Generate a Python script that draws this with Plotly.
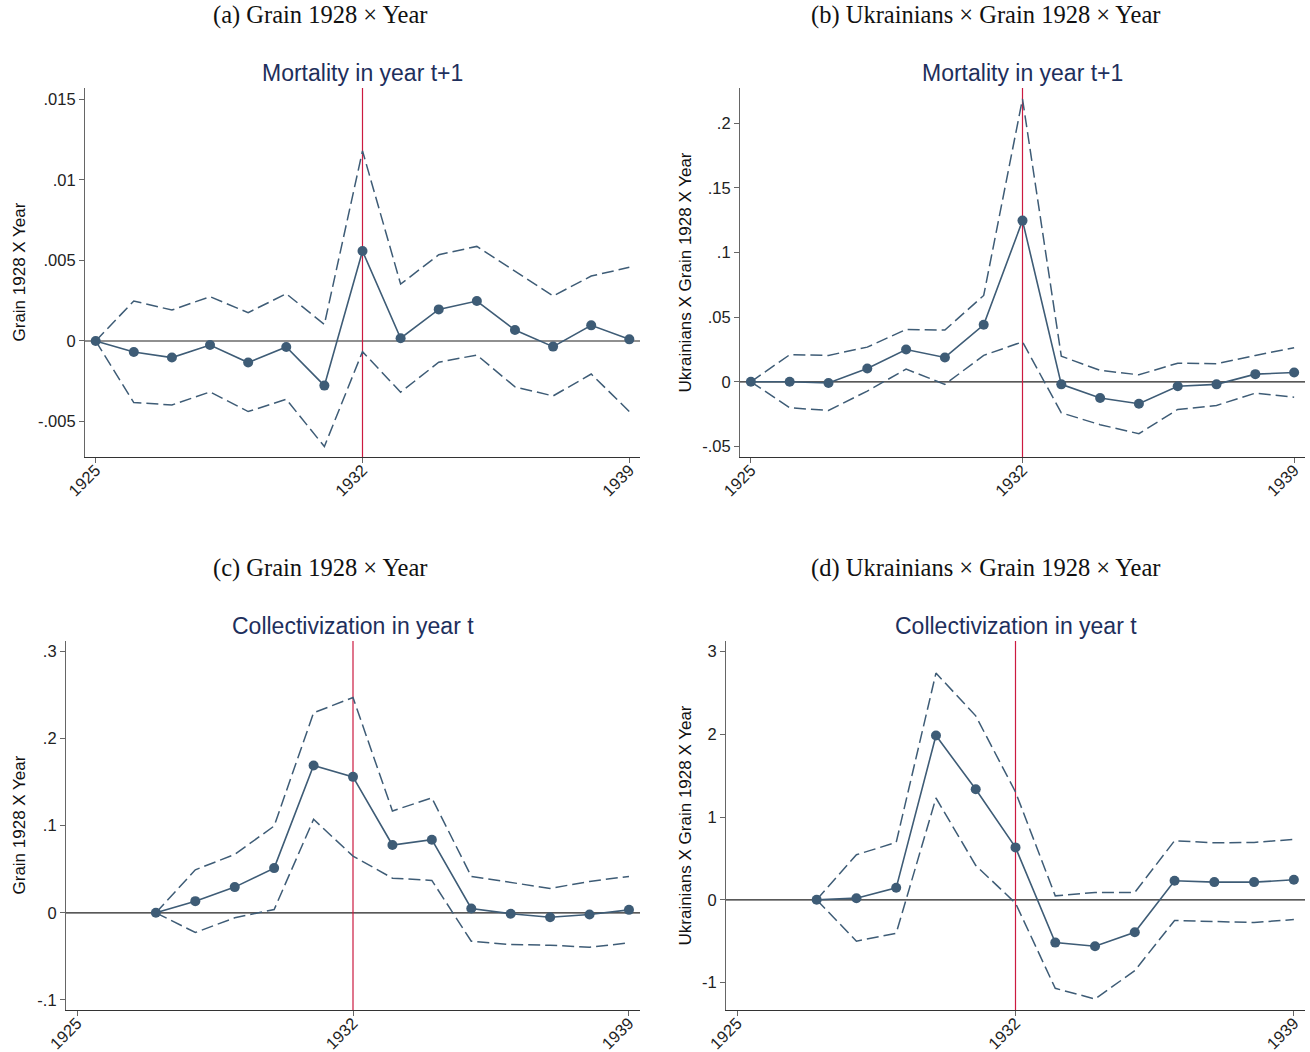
import plotly.graph_objects as go

# ---------------------------------------------------------------- data
years_full = list(range(1925, 1940))
years_coll = list(range(1927, 1940))
year_ticks = [1925, 1932, 1939]
event_year = 1932

# (a) Grain 1928 x Year -> mortality in year t+1
mort_grain_coef = [0, -0.00068, -0.00103, -0.00025, -0.00134, -0.00037, -0.00277, 0.00558,
                   0.00017, 0.00196, 0.00248, 0.00068, -0.00035, 0.00097, 0.0001]
mort_grain_hi = [0, 0.00248, 0.00192, 0.00275, 0.00176, 0.00293, 0.00103, 0.0118,
                 0.00353, 0.00535, 0.00587, 0.00434, 0.00279, 0.00403, 0.00457]
mort_grain_lo = [0, -0.00382, -0.00397, -0.00316, -0.00438, -0.00362, -0.00655, -0.00066,
                 -0.00318, -0.00132, -0.00087, -0.00285, -0.00341, -0.00205, -0.00438]

# (b) Ukrainians x Grain 1928 x Year -> mortality in year t+1
mort_ukr_coef = [0, 0.0, -0.001, 0.0103, 0.025, 0.0188, 0.0441, 0.1247,
                 -0.002, -0.0126, -0.017, -0.0034, -0.002, 0.0059, 0.0072]
mort_ukr_hi = [0, 0.0209, 0.0204, 0.0268, 0.0405, 0.040, 0.0668, 0.2188,
               0.0198, 0.0088, 0.0054, 0.0144, 0.0139, 0.0204, 0.0263]
mort_ukr_lo = [0, -0.0201, -0.0222, -0.0072, 0.0098, -0.002, 0.0204, 0.0309,
               -0.024, -0.0332, -0.0402, -0.0214, -0.0183, -0.0088, -0.0119]

# (c) Grain 1928 x Year -> collectivization in year t
coll_grain_coef = [0, 0.0134, 0.0295, 0.0513, 0.169, 0.156, 0.0778, 0.0839,
                   0.005, -0.001, -0.005, -0.002, 0.0034]
coll_grain_hi = [0, 0.0494, 0.067, 0.0996, 0.2295, 0.247, 0.1169, 0.1318,
                 0.0418, 0.0345, 0.028, 0.036, 0.0418]
coll_grain_lo = [0, -0.0226, -0.0057, 0.0038, 0.1073, 0.0651, 0.0398, 0.0372,
                 -0.0326, -0.0364, -0.0372, -0.0395, -0.0345]

# (d) Ukrainians x Grain 1928 x Year -> collectivization in year t
coll_ukr_coef = [0, 0.02, 0.145, 1.986, 1.336, 0.634, -0.517, -0.561,
                 -0.392, 0.23, 0.214, 0.214, 0.242]
coll_ukr_hi = [0, 0.545, 0.694, 2.741, 2.224, 1.304, 0.048, 0.089,
               0.089, 0.715, 0.69, 0.694, 0.73]
coll_ukr_lo = [0, -0.5, -0.404, 1.231, 0.416, -0.04, -1.07, -1.199,
               -0.856, -0.25, -0.262, -0.275, -0.238]

ytick_a = [-0.005, 0, 0.005, 0.01, 0.015]
ytext_a = ["-.005", "0", ".005", ".01", ".015"]
ytick_b = [-0.05, 0, 0.05, 0.1, 0.15, 0.2]
ytext_b = ["-.05", "0", ".05", ".1", ".15", ".2"]
ytick_c = [-0.1, 0, 0.1, 0.2, 0.3]
ytext_c = ["-.1", "0", ".1", ".2", ".3"]
ytick_d = [-1, 0, 1, 2, 3]
ytext_d = ["-1", "0", "1", "2", "3"]

panel_titles = ["(a) Grain 1928 \u00d7 Year", "(b) Ukrainians \u00d7 Grain 1928 \u00d7 Year",
                "(c) Grain 1928 \u00d7 Year", "(d) Ukrainians \u00d7 Grain 1928 \u00d7 Year"]
outcome_titles = ["Mortality in year t+1", "Mortality in year t+1",
                  "Collectivization in year t", "Collectivization in year t"]
ylabels = ["Grain 1928 X Year", "Ukrainians X Grain 1928 X Year",
           "Grain 1928 X Year", "Ukrainians X Grain 1928 X Year"]

# ---------------------------------------------------------------- layout helpers
W, H = 1310, 1052
def px_x(v):
    return v / W
def px_y(v):
    return 1 - v / H

SERIES = "#3e5c76"
EVENT = "#cc1a40"
TITLE_NAVY = "#1e2f5c"
SANS = "Liberation Sans, Arial, sans-serif"
SERIF = "Liberation Serif, Times New Roman, serif"

panels = [
    dict(x=years_full, coef=mort_grain_coef, hi=mort_grain_hi, lo=mort_grain_lo,
         yt=ytick_a, ytx=ytext_a, yr=[-0.0072, 0.0157],
         box=(85, 640, 88, 457), title_x=320, title_y=15, sub_y=73, ylab_x=19),
    dict(x=years_full, coef=mort_ukr_coef, hi=mort_ukr_hi, lo=mort_ukr_lo,
         yt=ytick_b, ytx=ytext_b, yr=[-0.0582, 0.2273],
         box=(740, 1305, 88, 457), title_x=985, title_y=15, sub_y=73, ylab_x=685),
    dict(x=years_coll, coef=coll_grain_coef, hi=coll_grain_hi, lo=coll_grain_lo,
         yt=ytick_c, ytx=ytext_c, yr=[-0.1115, 0.3119],
         box=(66, 640, 641, 1010), title_x=320, title_y=568, sub_y=626, ylab_x=19),
    dict(x=years_coll, coef=coll_ukr_coef, hi=coll_ukr_hi, lo=coll_ukr_lo,
         yt=ytick_d, ytx=ytext_d, yr=[-1.332, 3.129],
         box=(726, 1305, 641, 1010), title_x=985, title_y=568, sub_y=626, ylab_x=685),
]

fig = go.Figure()
layout_axes = {}
shapes = []
annotations = []

for i, p in enumerate(panels, start=1):
    xa = "x" if i == 1 else f"x{i}"
    ya = "y" if i == 1 else f"y{i}"
    x0, x1, y0, y1 = p["box"]

    for band in (p["hi"], p["lo"]):
        fig.add_trace(go.Scatter(
            x=p["x"], y=band, xaxis=xa, yaxis=ya, mode="lines",
            line=dict(color=SERIES, width=1.5, dash="12px,5px"),
            showlegend=False, hoverinfo="skip"))
    fig.add_trace(go.Scatter(
        x=p["x"], y=p["coef"], xaxis=xa, yaxis=ya, mode="lines+markers",
        line=dict(color=SERIES, width=1.6),
        marker=dict(color=SERIES, size=10),
        showlegend=False))

    xkey = "xaxis" if i == 1 else f"xaxis{i}"
    ykey = "yaxis" if i == 1 else f"yaxis{i}"
    layout_axes[xkey] = dict(
        domain=[px_x(x0), px_x(x1)], anchor=ya, range=[1924.72, 1939.28],
        tickvals=year_ticks, ticktext=[str(t) for t in year_ticks], tickangle=-45,
        ticks="outside", ticklen=5, tickcolor="#666", tickwidth=1, automargin=False,
        ticklabelstandoff=-9,
        showline=True, linecolor="#333", linewidth=1.2, showgrid=False, zeroline=False,
        tickfont=dict(family=SANS, size=16.5, color="#222"), fixedrange=True)
    layout_axes[ykey] = dict(
        domain=[px_y(y1), px_y(y0)], anchor=xa, range=p["yr"],
        tickvals=p["yt"], ticktext=p["ytx"], automargin=False,
        ticks="outside", ticklen=5, tickcolor="#666", tickwidth=1,
        showline=True, linecolor="#666", linewidth=1.2, showgrid=False, zeroline=False,
        tickfont=dict(family=SANS, size=16.5, color="#222"), fixedrange=True)

    # reference line at zero and the 1932 marker line
    shapes.append(dict(type="line", xref=f"{xa} domain", yref=ya, x0=0, x1=1, y0=0, y1=0,
                       line=dict(color="#222", width=1.2), layer="below"))
    shapes.append(dict(type="line", xref=xa, yref=f"{ya} domain", x0=event_year, x1=event_year,
                       y0=0, y1=1, line=dict(color=EVENT, width=1.2), layer="below"))

    annotations.append(dict(text=panel_titles[i - 1], xref="paper", yref="paper",
                            x=px_x(p["title_x"]), y=px_y(p["title_y"]), showarrow=False,
                            xanchor="center", yanchor="middle",
                            font=dict(family=SERIF, size=24.5, color="#111")))
    annotations.append(dict(text=outcome_titles[i - 1], xref="paper", yref="paper",
                            x=px_x((x0 + x1) / 2), y=px_y(p["sub_y"]), showarrow=False,
                            xanchor="center", yanchor="middle",
                            font=dict(family=SANS, size=23, color=TITLE_NAVY)))
    annotations.append(dict(text=ylabels[i - 1], xref="paper", yref="paper",
                            x=px_x(p["ylab_x"]), y=px_y((y0 + y1) / 2), showarrow=False,
                            textangle=-90, xanchor="center", yanchor="middle",
                            font=dict(family=SANS, size=17, color="#111")))

fig.update_layout(
    width=W, height=H, margin=dict(l=0, r=0, t=0, b=0),
    paper_bgcolor="white", plot_bgcolor="white",
    shapes=shapes, annotations=annotations, showlegend=False,
    **layout_axes)

fig.write_html("out.html", config={"displayModeBar": False})
